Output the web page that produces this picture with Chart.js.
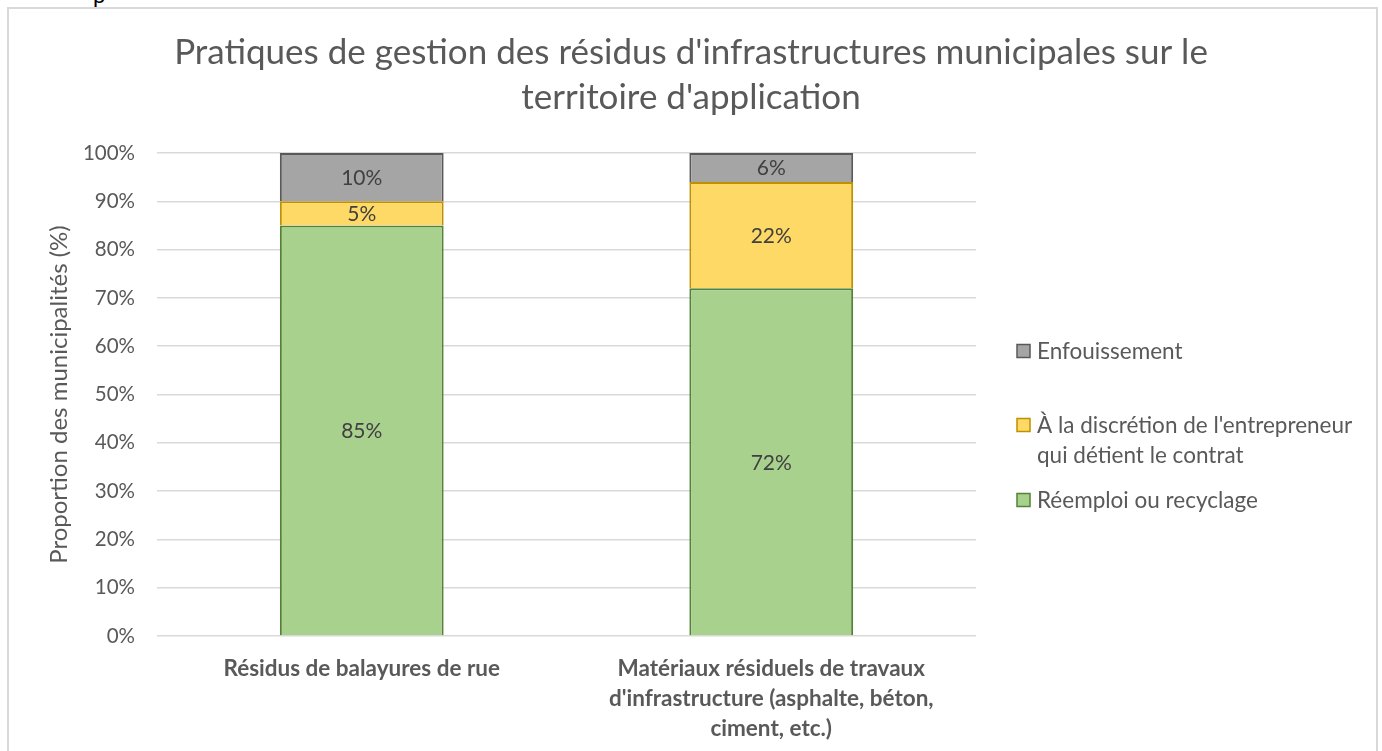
<!DOCTYPE html>
<html>
<head>
<meta charset="utf-8">
<script src="https://cdn.jsdelivr.net/npm/chart.js@4/dist/chart.umd.min.js"></script>
<style>
  html, body { margin: 0; padding: 0; background: #ffffff; width: 1382px; height: 751px; overflow: hidden; }
  #frame { position: absolute; left: 7px; top: 7px; width: 1371px; height: 800px; border: 2px solid #d9d9d9; border-bottom: none; box-sizing: border-box; }
  #stub { position: absolute; left: 93px; top: -19px; font: 22px Lato, sans-serif; color: #000; }
  #c { position: absolute; left: 0; top: 0; }
</style>
</head>
<body>
<div id="stub">p</div>
<div id="frame"></div>
<canvas id="c" width="1382" height="751"></canvas>
<script>
const categories = [
  ["Résidus de balayures de rue"],
  ["Matériaux résiduels de travaux", "d'infrastructure (asphalte, béton,", "ciment, etc.)"]
];
const seriesNames = ["Réemploi ou recyclage", "À la discrétion de l'entrepreneur qui détient le contrat", "Enfouissement"];
const reemploi = [85, 72];
const discretion = [5, 22];
const enfouissement = [10, 6];
const yTicks = [0, 10, 20, 30, 40, 50, 60, 70, 80, 90, 100];
const titleLines = ["Pratiques de gestion des résidus d'infrastructures municipales sur le", "territoire d'application"];
const yTitle = "Proportion des municipalités (%)";

const FONT = "Lato";
const TXT = "#595959";

const legendLayout = {
  rows: [
    { ds: 2, lines: ["Enfouissement"], y: [351] },
    { ds: 1, lines: ["À la discrétion de l'entrepreneur", "qui détient le contrat"], y: [425, 455] },
    { ds: 0, lines: ["Réemploi ou recyclage"], y: [500] }
  ],
  boxX: 1017, boxSize: 13, textX: 1037
};

const dataLabelPlugin = {
  id: 'dataLabels',
  afterDatasetsDraw(chart) {
    const ctx = chart.ctx;
    ctx.save();
    ctx.font = `21px ${FONT}`;
    ctx.fillStyle = "#404040";
    ctx.textAlign = "center";
    ctx.textBaseline = "middle";
    chart.data.datasets.forEach((ds, i) => {
      const meta = chart.getDatasetMeta(i);
      meta.data.forEach((el, j) => {
        const v = ds.data[j];
        ctx.fillText(v + "%", el.x, (el.y + el.base) / 2 + 1);
      });
    });
    ctx.restore();
  }
};

const customLegend = {
  id: 'customLegend',
  afterDraw(chart) {
    const ctx = chart.ctx;
    ctx.save();
    ctx.font = `22.5px ${FONT}`;
    ctx.textBaseline = "middle";
    ctx.textAlign = "left";
    legendLayout.rows.forEach(r => {
      const ds = chart.data.datasets[r.ds];
      const s = legendLayout.boxSize;
      ctx.fillStyle = ds.backgroundColor;
      ctx.fillRect(legendLayout.boxX, r.y[0] - s / 2, s, s);
      ctx.strokeStyle = ds.borderColor;
      ctx.lineWidth = 1.5;
      ctx.strokeRect(legendLayout.boxX, r.y[0] - s / 2, s, s);
      ctx.fillStyle = TXT;
      r.lines.forEach((t, k) => ctx.fillText(t, legendLayout.textX, r.y[k] + 1));
    });
    ctx.restore();
  }
};

new Chart(document.getElementById('c'), {
  type: 'bar',
  data: {
    labels: categories,
    datasets: [
      { label: seriesNames[0], data: reemploi, backgroundColor: "#A9D18E", borderColor: "#548235", borderWidth: 2 },
      { label: seriesNames[1], data: discretion, backgroundColor: "#FFD966", borderColor: "#BF9000", borderWidth: 2 },
      { label: seriesNames[2], data: enfouissement, backgroundColor: "#A5A5A5", borderColor: "#595959", borderWidth: 2 }
    ]
  },
  options: {
    responsive: false,
    animation: false,
    devicePixelRatio: 1,
    layout: { padding: { left: 0, right: 0, top: 0, bottom: 0 } },
    datasets: { bar: { categoryPercentage: 1, barPercentage: 0.4 } },
    plugins: {
      legend: { display: false },
      tooltip: { enabled: false },
      title: {
        display: true,
        text: titleLines,
        color: TXT,
        font: { family: FONT, size: 35, weight: 'normal', lineHeight: 1.286 },
        padding: { top: 30, bottom: 33 }
      }
    },
    scales: {
      x: {
        stacked: true,
        grid: { display: false },
        border: { display: false },
        ticks: { color: TXT, font: { family: FONT, size: 22.5, weight: 'bold', lineHeight: 1.333 }, maxRotation: 0, autoSkip: false, padding: 10 },
        afterFit(s) { s.height = 115; }
      },
      y: {
        stacked: true,
        min: 0, max: 100,
        afterBuildTicks(s) { s.ticks = yTicks.map(v => ({ value: v })); },
        ticks: { color: TXT, font: { family: FONT, size: 20.5 }, padding: 22, callback: v => v + "%" },
        grid: { color: "#d9d9d9", lineWidth: 1.5, drawTicks: false },
        border: { display: false },
        title: { display: true, text: yTitle, color: TXT, font: { family: FONT, size: 24 }, padding: { top: 45, bottom: 0 } },
        afterFit(s) { s.width = 157; }
      },
      yRight: {
        position: 'right',
        display: true,
        min: 0, max: 100,
        grid: { display: false, drawOnChartArea: false },
        border: { display: false },
        ticks: { display: false },
        afterFit(s) { s.width = 1382 - 976; }
      }
    }
  },
  plugins: [dataLabelPlugin, customLegend]
});
</script>
</body>
</html>
